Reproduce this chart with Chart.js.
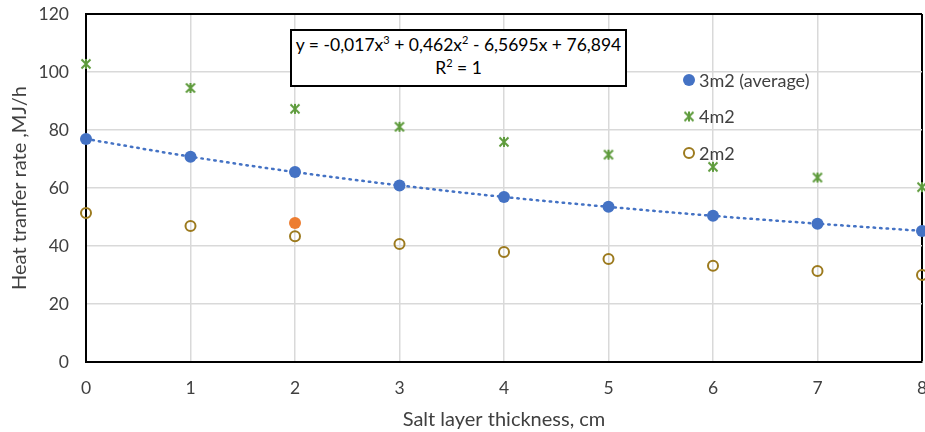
<!DOCTYPE html>
<html>
<head>
<meta charset="utf-8">
<script src="https://cdn.jsdelivr.net/npm/chart.js@4.4.1/dist/chart.umd.min.js"></script>
<style>
  html, body { margin: 0; padding: 0; background: #fff; }
  #wrap { position: relative; width: 925px; height: 432px; }
  #eqBox {
    position: absolute; left: 290px; top: 29px; width: 333px; height: 52px;
    border: 2px solid #000; background: #fff;
    font-family: Lato, "Open Sans", sans-serif; font-size: 17.5px; color: #000;
    text-align: center; line-height: 23px; padding-top: 2px; box-sizing: content-box;
    white-space: nowrap;
  }
  #eqBox sup { font-size: 11px; line-height: 0; vertical-align: 7px; }
</style>
</head>
<body>
<div id="wrap">
  <canvas id="heatChart" width="925" height="432"></canvas>
  <div id="eqBox">y = -0,017x<sup>3</sup> + 0,462x<sup>2</sup> - 6,5695x + 76,894<br>R<sup>2</sup> = 1</div>
</div>
<script>
// values
const thickness = [0, 1, 2, 3, 4, 5, 6, 7, 8];
const area3avg = [76.9, 70.8, 65.5, 60.9, 56.9, 53.5, 50.4, 47.7, 45.2];
const area4 = [102.8, 94.5, 87.3, 81.1, 75.9, 71.5, 67.3, 63.6, 60.3];
const area2 = [51.4, 46.9, 43.4, 40.7, 37.9, 35.5, 33.2, 31.4, 30.0];
const extraPoint = [{ x: 2, y: 47.9 }];
const yTicks = [0, 20, 40, 60, 80, 100, 120];
const legendNames = ["3m2 (average)", "4m2", "2m2"];

const BLUE = '#4472C4';
const GREEN = '#5E9B3C';
const GOLD = '#9C7A1E';
const ORANGE = '#ED7D31';
const GRID = '#D9D9D9';
const FONT = 'Lato, "Open Sans", sans-serif';

function pts(ys) {
    return thickness.map((x, i) => ({ x: x, y: ys[i] }));
}

// excel style asterisk marker
function makeStar() {
    const c = document.createElement('canvas');
    c.width = 14; c.height = 14;
    const g = c.getContext('2d');
    g.strokeStyle = GREEN;
    g.lineWidth = 2;
    g.beginPath();
    g.moveTo(2.5, 2.5); g.lineTo(11.5, 11.5);
    g.moveTo(2.5, 11.5); g.lineTo(11.5, 2.5);
    g.moveTo(7, 2); g.lineTo(7, 12);
    g.stroke();
    return c;
}
const starMark = makeStar();

// legend inside the plot, drawn with the same markers
const innerLegend = {
    id: 'innerLegend',
    afterDraw(chart) {
        const ctx = chart.ctx;
        ctx.save();
        ctx.font = '18px ' + FONT;
        ctx.textBaseline = 'middle';
        for (let i = 0; i < 3; i++) {
            const ds = chart.data.datasets[i];
            const y = 80 + i * 36.5;
            ctx.fillStyle = ds.backgroundColor;
            ctx.strokeStyle = ds.borderColor;
            ctx.lineWidth = ds.borderWidth;
            Chart.helpers.drawPoint(ctx, {
                pointStyle: ds.pointStyle, radius: ds.pointRadius, borderWidth: ds.borderWidth
            }, 689, y);
            ctx.fillStyle = '#404040';
            ctx.fillText(legendNames[i], 699, y + 1);
        }
        ctx.restore();
    }
};

// top and right edges of the frame come from the last grid lines
function edgeColor(max) {
    return c => (c.tick && c.tick.value === max) ? '#000' : GRID;
}
function edgeWidth(max) {
    return c => (c.tick && c.tick.value === max) ? 2 : 1.5;
}

window.onload = function () {
    const ctx = document.getElementById('heatChart').getContext('2d');
    new Chart(ctx, {
        type: 'scatter',
        data: {
            datasets: [
                {
                    label: legendNames[0], data: pts(area3avg), order: 2,
                    pointStyle: 'circle', pointRadius: 6, borderWidth: 0,
                    backgroundColor: BLUE, borderColor: BLUE, clip: false
                },
                {
                    label: legendNames[1], data: pts(area4), order: 2,
                    pointStyle: starMark, pointRadius: 6, borderWidth: 0,
                    backgroundColor: GREEN, borderColor: GREEN, clip: false
                },
                {
                    label: legendNames[2], data: pts(area2), order: 2,
                    pointStyle: 'circle', pointRadius: 5, borderWidth: 2,
                    backgroundColor: 'rgba(0,0,0,0)', borderColor: GOLD, clip: false
                },
                {
                    label: 'point', data: extraPoint, order: 1,
                    pointStyle: 'circle', pointRadius: 6, borderWidth: 0,
                    backgroundColor: ORANGE, borderColor: ORANGE, clip: false
                },
                {
                    label: 'Poly. (3m2 (average))', data: pts(area3avg), order: 3,
                    showLine: true, pointRadius: 0, borderColor: BLUE, borderWidth: 2.5,
                    borderDash: [1.5, 5], borderCapStyle: 'round',
                    cubicInterpolationMode: 'monotone', clip: false
                }
            ]
        },
        options: {
            responsive: false,
            animation: false,
            layout: { autoPadding: false, padding: { top: 14, right: 3, left: 0, bottom: 0 } },
            plugins: {
                legend: { display: false },
                tooltip: { enabled: false }
            },
            scales: {
                x: {
                    type: 'linear', min: 0, max: 8,
                    afterFit: s => { s.height = 70; s.paddingLeft = 0; s.paddingRight = 0; },
                    ticks: { stepSize: 1, padding: 16, color: '#404040', font: { family: FONT, size: 17.5 } },
                    grid: { color: edgeColor(8), lineWidth: edgeWidth(8), drawTicks: false },
                    border: { display: true, color: '#000', width: 2 },
                    title: {
                        display: true, text: 'Salt layer thickness, cm', color: '#404040',
                        font: { family: FONT, size: 20 }, padding: { top: 0, bottom: 0 }
                    }
                },
                y: {
                    min: 0, max: 120,
                    afterFit: s => { s.width = 86; s.paddingTop = 0; s.paddingBottom = 0; },
                    afterBuildTicks: s => { s.ticks = yTicks.map(v => ({ value: v })); },
                    ticks: { padding: 17, color: '#404040', font: { family: FONT, size: 17.5 } },
                    grid: { color: edgeColor(120), lineWidth: edgeWidth(120), drawTicks: false },
                    border: { display: true, color: '#000', width: 2 },
                    title: {
                        display: true, text: 'Heat tranfer rate ,MJ/h', color: '#404040',
                        font: { family: FONT, size: 20 }, padding: { top: 8, bottom: 0 }
                    }
                }
            }
        },
        plugins: [innerLegend]
    });
};
</script>
</body>
</html>
